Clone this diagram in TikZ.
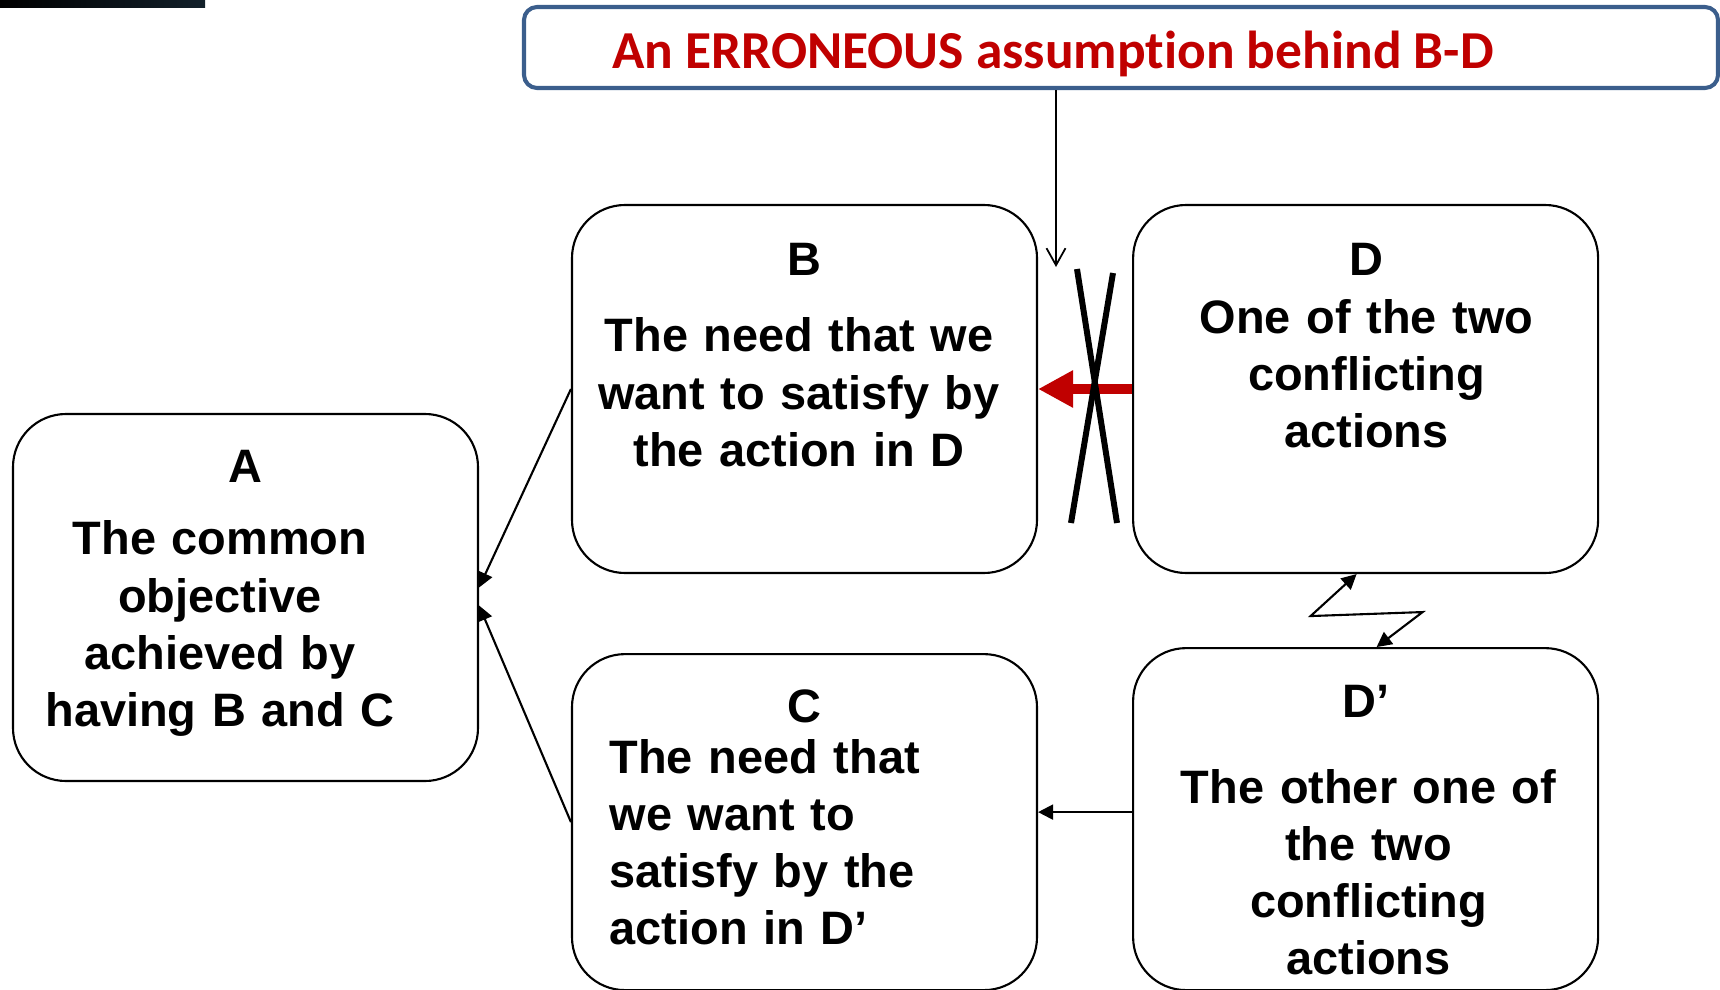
\documentclass[tikz,border=0pt]{standalone}
\usepackage{fontspec}
\setmainfont{Liberation Sans}
\newfontfamily\headfont[RawFeature={-liga;-clig;-calt;-dlig}]{Carlito}
\usepackage{tikz}
\usepackage{xcolor}
\usetikzlibrary{shapes,arrows.meta,positioning,calc}

\definecolor{errred}{RGB}{192,0,0}
\definecolor{frameblue}{RGB}{59,94,140}
\definecolor{barend}{RGB}{18,32,42}

\begin{document}
\begin{tikzpicture}[
    box/.style={rectangle, draw, rounded corners=0.53cm, line width=0.6pt, minimum width=4.65cm, inner sep=0pt},
    lbl/.style={font=\bfseries\fontsize{13.35}{16.3}\selectfont, inner sep=0pt, anchor=base},
    txt/.style={lbl, text width=4.4cm, align=center},
    headbox/.style={rectangle, draw=frameblue, line width=1.15pt, rounded corners=0.13cm, minimum width=11.94cm, minimum height=0.81cm},
    headline/.style={font=\headfont\bfseries\fontsize{15.2}{18}\selectfont, text=errred, inner sep=0pt, anchor=base},
    link/.style={line width=0.6pt, ->},
    >={Triangle[length=1.5mm,width=1.5mm]}
]
    \useasboundingbox (0,0) rectangle (17.2,-9.9);
    \shade[left color=black, right color=barend] (0,0) rectangle (2.05,-0.07);

    % the assumption on top
    \node[headbox] (title) at (11.21,-0.475) {};
    \node[headline] (assumption) at (10.53,-0.69) {An ERRONEOUS assumption behind B-D};

    % the five boxes
    \node[box, minimum height=3.68cm] (B) at (8.045,-3.89) {};
    \node[box, minimum height=3.68cm, right=0.94cm of B] (D) {};
    \node[box, minimum height=3.36cm, below=0.79cm of B] (C) {};
    \node[box, minimum height=3.42cm, below=0.73cm of D] (Dp) {};
    \node[box, minimum height=3.67cm] (A) at (2.455,-5.975) {};

    \node[lbl] (Alabel) at ($(A.north)+(0,-0.70)$) {A};
    \node[txt] (Atext) at ($(A.north)+(-0.255,-1.42)$) {The common\\objective\\achieved by\\having B and C};
    \node[lbl] (Blabel) at ($(B.north)+(0,-0.72)$) {B};
    \node[txt] (Btext) at ($(B.north)+(-0.055,-1.48)$) {The need that we\\want to satisfy by\\the action in D};
    \node[lbl] (Clabel) at ($(C.north)+(0,-0.69)$) {C};
    \node[txt, align=left, anchor=base west] (Ctext) at ($(C.north west)+(0.38,-1.20)$) {The need that\\we want to\\satisfy by the\\action in D’};
    \node[txt] (Dtext) at ($(D.north)+(0.01,-0.72)$) {D\\One of the two\\conflicting\\actions};
    \node[lbl] (Dplabel) at ($(Dp.north)+(0,-0.70)$) {D’};
    \node[txt] (Dptext) at ($(Dp.north)+(0.03,-1.56)$) {The other one of\\the two\\conflicting\\actions};

    % connectors
    \draw[link] (B.west) -- ($(A.east)+(0,0.10)$);
    \draw[link] (C.west) -- ($(A.east)+(0,-0.08)$);
    \draw[link] ($(Dp.west)+(0,0.07)$) coordinate (dpw) -- (dpw -| C.east);
    \draw[link, <->] ($(D.south)+(-0.09,0)$) -- ++(-0.46,-0.42) -- ++(1.12,0.04) -- ($(Dp.north)+(0.11,0)$);

    % the crossed out arrow
    \draw[errred, line width=3.1pt, -{Triangle[length=3.5mm,width=3.5mm]}] (D.west) -- (B.east);
    \draw[line width=1.7pt] (10.77,-2.69) -- (11.17,-5.23);
    \draw[line width=1.7pt] (11.13,-2.73) -- (10.71,-5.23);

    \coordinate (pointer) at (10.56,-2.67);
    \draw[line width=0.5pt, -{Straight Barb[length=1.7mm,width=1.9mm]}] (title.south -| pointer) -- (pointer);
\end{tikzpicture}
\end{document}
